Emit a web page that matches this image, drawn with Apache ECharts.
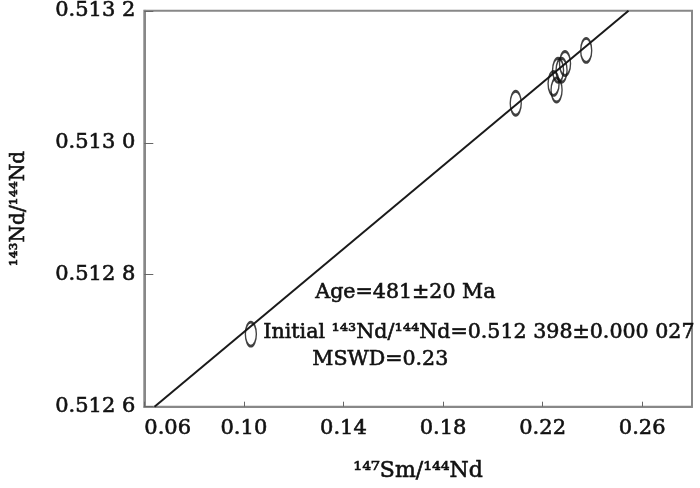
<!DOCTYPE html>
<html>
<head>
<meta charset="utf-8">
<script src="https://cdn.jsdelivr.net/npm/echarts@6/dist/echarts.min.js"></script>
<style>html,body{margin:0;padding:0;background:#fff;}#c{width:700px;height:488px;}</style>
</head>
<body>
<div id="c"></div>
<script>
// Sm/Nd isochron data (147Sm/144Nd, 143Nd/144Nd)
var smNd = [0.1028, 0.2092, 0.2244, 0.2256, 0.2262, 0.2276, 0.2290, 0.2375];
var ndNd = [0.51271, 0.51306, 0.51309, 0.51308, 0.51311, 0.51311, 0.51312, 0.51314];
// isochron line end points
var isoX = [0.0641, 0.2545];
var isoY = [0.5126, 0.5132];
var xTicks = ['0.06', '0.10', '0.14', '0.18', '0.22', '0.26'];
var yTicks = ['0.512 6', '0.512 8', '0.513 0', '0.513 2'];
var xName = '¹⁴⁷Sm/¹⁴⁴Nd';
var yName = '¹⁴³Nd/¹⁴⁴Nd';
var notes = ['Age=481±20 Ma', 'Initial ¹⁴³Nd/¹⁴⁴Nd=0.512 398±0.000 027', 'MSWD=0.23'];

var FONT = 'DejaVu Serif';
var INK = '#111';
var pts = smNd.map(function (x, i) { return [x, ndNd[i]]; });
var line = isoX.map(function (x, i) { return [x, isoY[i]]; });

function txt(size) {
  return {color: INK, fontFamily: FONT, fontSize: size, textBorderColor: INK, textBorderWidth: 0.6};
}

var chart = echarts.init(document.getElementById('c'), null, {renderer: 'canvas'});
chart.setOption({
  animation: false,
  backgroundColor: '#fff',
  grid: {left: 142, right: 8, top: 8, bottom: 79, show: true, borderColor: '#888', borderWidth: 2, backgroundColor: 'transparent'},
  xAxis: {
    type: 'value', min: 0.06, max: 0.28, interval: 0.04,
    axisLine: {show: true, lineStyle: {color: '#888', width: 2}},
    axisTick: {show: true, inside: true, length: 5, lineStyle: {color: '#666', width: 1}},
    splitLine: {show: false},
    axisLabel: Object.assign(txt(21), {
      margin: 11, showMaxLabel: false, alignMinLabel: 'left',
      formatter: function (v) { var i = Math.round((v - 0.06) / 0.04); return xTicks[i] || ''; }
    }),
    name: xName, nameLocation: 'middle', nameGap: 54,
    nameTextStyle: txt(22)
  },
  yAxis: {
    type: 'value', min: 0.5126, max: 0.5132, interval: 0.0002,
    axisLine: {show: true, lineStyle: {color: '#888', width: 2}},
    axisTick: {show: true, inside: true, length: 9, lineStyle: {color: '#666', width: 1}},
    splitLine: {show: false},
    axisLabel: Object.assign(txt(21), {
      margin: 9,
      formatter: function (v) { var i = Math.round((v - 0.5126) / 0.0002); return yTicks[i] || ''; }
    }),
    name: yName, nameLocation: 'middle', nameGap: 116, nameRotate: 90,
    nameTextStyle: txt(20)
  },
  series: [
    {
      type: 'line', data: line, showSymbol: false, silent: true,
      lineStyle: {color: '#1a1a1a', width: 2}, z: 2
    },
    {
      type: 'scatter', data: pts, symbol: 'circle', symbolSize: [11, 24],
      itemStyle: {color: 'rgba(0,0,0,0)', borderColor: '#111', borderWidth: 2}, z: 3
    }
  ],
  graphic: [
    {type: 'text', left: 315, top: 282, style: {text: notes[0], font: '20.6px "DejaVu Serif"', fill: INK, stroke: INK, lineWidth: 0.6}},
    {type: 'text', left: 263, top: 322, style: {text: notes[1], font: '20.6px "DejaVu Serif"', fill: INK, stroke: INK, lineWidth: 0.6}},
    {type: 'text', left: 312, top: 349, style: {text: notes[2], font: '20.6px "DejaVu Serif"', fill: INK, stroke: INK, lineWidth: 0.6}}
  ]
});
</script>
</body>
</html>
